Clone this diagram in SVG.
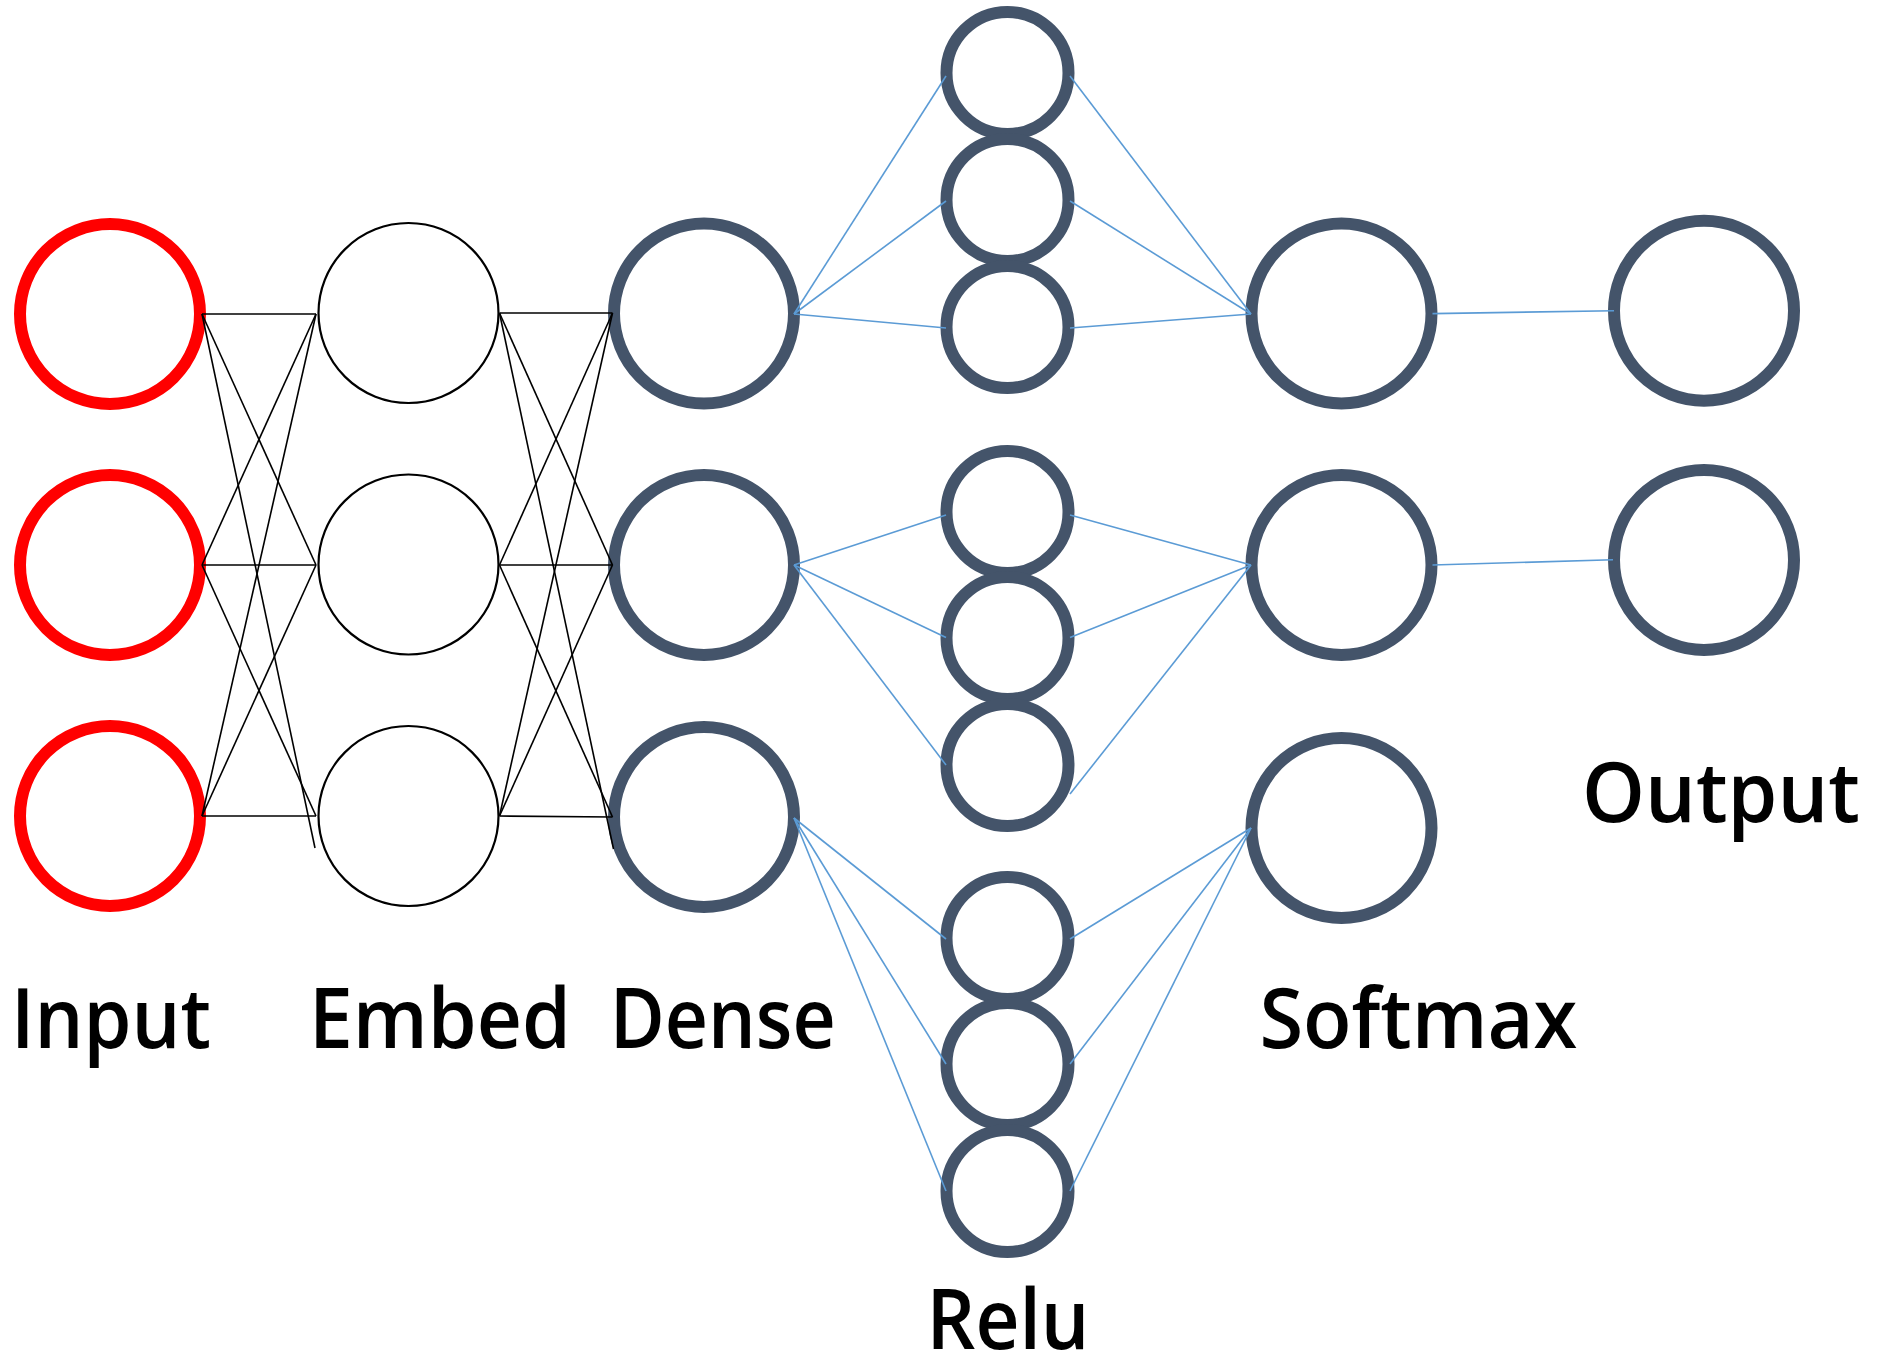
<svg xmlns="http://www.w3.org/2000/svg" width="1884" height="1359" viewBox="0 0 1884 1359">
<style>
.in{fill:#fff;stroke:#FF0000;stroke-width:12}
.em{fill:#fff;stroke:#000;stroke-width:2.2}
.sl{fill:#fff;stroke:#44546A;stroke-width:12}
.bk{stroke:#000;stroke-width:1.6;fill:none}
.bl{stroke:#5B9BD5;stroke-width:1.6;fill:none}
.lb{font-family:"Open Sans","Noto Sans",sans-serif;font-size:84px;font-weight:600;fill:#000;text-anchor:middle}
</style>
<rect width="1884" height="1359" fill="#fff"/>
<g id="input">
<circle class="in" cx="110" cy="314" r="90"/>
<circle class="in" cx="110" cy="565" r="90"/>
<circle class="in" cx="110" cy="816" r="90"/>
</g>
<g id="embed">
<circle class="em" cx="408.5" cy="313" r="90"/>
<circle class="em" cx="408.5" cy="564.5" r="90"/>
<circle class="em" cx="408.5" cy="816" r="90"/>
</g>
<g id="dense">
<circle class="sl" cx="704" cy="313.6" r="90"/>
<circle class="sl" cx="704" cy="565" r="90"/>
<circle class="sl" cx="704" cy="817" r="90"/>
</g>
<g id="relu">
<circle class="sl" cx="1007.5" cy="73" r="61"/>
<circle class="sl" cx="1007.5" cy="200" r="61"/>
<circle class="sl" cx="1007.5" cy="327" r="61"/>
<circle class="sl" cx="1007.5" cy="512" r="61"/>
<circle class="sl" cx="1007.5" cy="638" r="61"/>
<circle class="sl" cx="1007.5" cy="765" r="61"/>
<circle class="sl" cx="1007.5" cy="938" r="61"/>
<circle class="sl" cx="1007.5" cy="1064" r="61"/>
<circle class="sl" cx="1007.5" cy="1191" r="61"/>
</g>
<g id="softmax">
<circle class="sl" cx="1341.5" cy="313.4" r="90"/>
<circle class="sl" cx="1341.5" cy="565" r="90"/>
<circle class="sl" cx="1341.5" cy="828" r="90"/>
</g>
<g id="output">
<circle class="sl" cx="1704" cy="310.7" r="90"/>
<circle class="sl" cx="1704" cy="560" r="90"/>
</g>
<g id="connectors">
<g class="bk">
<line x1="202" y1="314" x2="316" y2="314"/>
<line x1="202" y1="314" x2="316" y2="565"/>
<line x1="202" y1="314" x2="315" y2="848"/>
<line x1="202" y1="565" x2="316" y2="314"/>
<line x1="202" y1="565" x2="316" y2="565"/>
<line x1="202" y1="565" x2="316" y2="816"/>
<line x1="202" y1="816" x2="316" y2="314"/>
<line x1="202" y1="816" x2="316" y2="565"/>
<line x1="202" y1="816" x2="316" y2="816"/>
<line x1="499.5" y1="313" x2="612.5" y2="313"/>
<line x1="499.5" y1="313" x2="612.5" y2="565"/>
<line x1="499.5" y1="313" x2="613.5" y2="849"/>
<line x1="499.5" y1="565" x2="612.5" y2="313"/>
<line x1="499.5" y1="565" x2="612.5" y2="565"/>
<line x1="499.5" y1="565" x2="612.5" y2="817"/>
<line x1="499.5" y1="816" x2="612.5" y2="313"/>
<line x1="499.5" y1="816" x2="612.5" y2="565"/>
<line x1="499.5" y1="816" x2="612.5" y2="817"/>
</g>
<g class="bl">
<line x1="794" y1="314" x2="946" y2="76"/>
<line x1="794" y1="314" x2="946" y2="201"/>
<line x1="794" y1="314" x2="946" y2="328"/>
<line x1="1070" y1="76" x2="1251" y2="314"/>
<line x1="1070" y1="201" x2="1251" y2="314"/>
<line x1="1070" y1="328" x2="1251" y2="314"/>
<line x1="794" y1="565" x2="946" y2="515"/>
<line x1="794" y1="565" x2="946" y2="637.5"/>
<line x1="794" y1="565" x2="946" y2="765"/>
<line x1="1070" y1="515" x2="1251" y2="565"/>
<line x1="1070" y1="637.5" x2="1251" y2="565"/>
<line x1="1070" y1="794" x2="1251" y2="565"/>
<line x1="794" y1="818" x2="946" y2="939"/>
<line x1="794" y1="818" x2="946" y2="1064"/>
<line x1="794" y1="818" x2="946" y2="1191"/>
<line x1="1070" y1="939" x2="1251" y2="828"/>
<line x1="1070" y1="1064" x2="1251" y2="828"/>
<line x1="1070" y1="1191" x2="1251" y2="828"/>
<line x1="1432.5" y1="313.6" x2="1614" y2="310.7"/>
<line x1="1432.5" y1="565" x2="1613" y2="559.8"/>
</g>
</g>
<g id="labels">
<text class="lb" x="111" y="1048" textLength="200" lengthAdjust="spacingAndGlyphs">Input</text>
<text class="lb" x="440" y="1048" textLength="262" lengthAdjust="spacingAndGlyphs">Embed</text>
<text class="lb" x="722.7" y="1048" textLength="226" lengthAdjust="spacingAndGlyphs">Dense</text>
<text class="lb" x="1008" y="1349" textLength="163" lengthAdjust="spacingAndGlyphs">Relu</text>
<text class="lb" x="1418.4" y="1048" textLength="318" lengthAdjust="spacingAndGlyphs">Softmax</text>
<text class="lb" x="1721" y="822" textLength="278" lengthAdjust="spacingAndGlyphs">Output</text>
</g>
</svg>
